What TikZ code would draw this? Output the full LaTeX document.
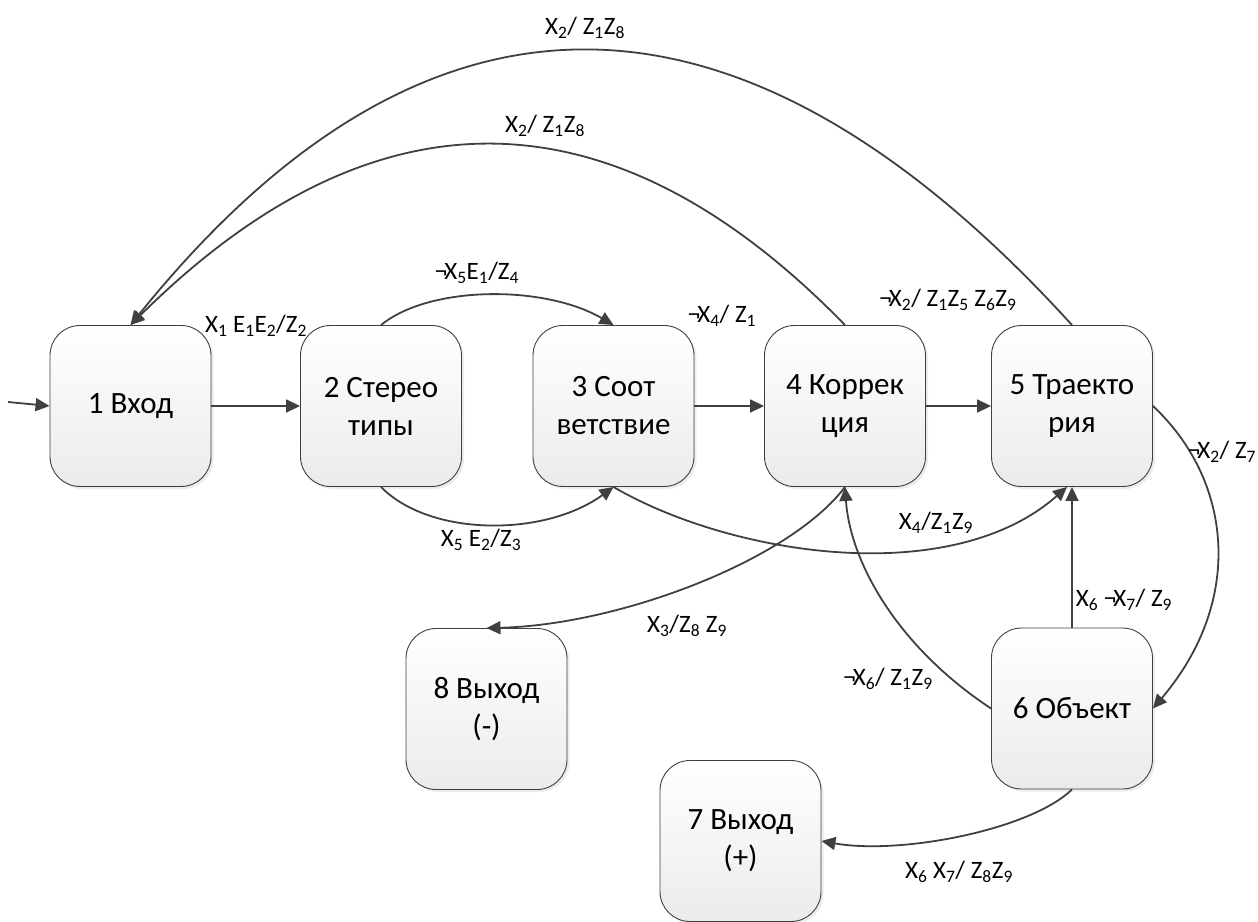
\documentclass[tikz,border=0pt]{standalone}
\usepackage{fontspec}
\setmainfont{Carlito}
\usetikzlibrary{arrows.meta,shadows}
\definecolor{ln}{HTML}{404040}
\definecolor{bot}{HTML}{EBEBEB}
\newcommand\ngx{¬\kern-3pt X}
\newcommand\ssub[1]{\textsubscript{#1}}
\begin{document}
\begin{tikzpicture}[x=1pt,y=-1pt,
  state/.style={draw=ln, line width=0.9pt, rounded corners=30pt,
    minimum width=161pt, minimum height=161pt, top color=white, bottom color=bot,
    align=center, font=\fontsize{31}{38}\selectfont,
    drop shadow={shadow xshift=2.5pt,shadow yshift=-2.5pt,fill=black!15}},
  lab/.style={font=\fontsize{25}{30}\selectfont, inner sep=0pt},
  arr/.style={draw=ln, line width=1.8pt, -{Triangle[length=14pt,width=13pt]}}]
\useasboundingbox (0,0) rectangle (1258,921);
\node[state] (n1) at (130.5,406) {1 Вход};
\node[state] (n2) at (381,406) {2 Стерео\\типы};
\node[state] (n3) at (613.5,406) {3 Соот\\ветствие};
\node[state] (n4) at (845,406) {4 Коррек\\ция};
\node[state] (n5) at (1072,406) {5 Траекто\\рия};
\node[state] (n6) at (1072,708.5) {6 Объект};
\node[state] (n8) at (486.5,709) {8 Выход\\(-)};
\node[state] (n7) at (740.5,841) {7 Выход\\(+)};

\coordinate (in) at (8,402);
\draw[arr] (in) -- (n1.west);
\draw[arr] (n1.east) -- (n2.west);
\draw[arr] (n2.north) .. controls (430,285) and (545,285) .. (n3.north);
\draw[arr] (n2.south) .. controls (430,537) and (545,537) .. (n3.south);
\draw[arr] (n3.east) -- (n4.west);
\draw[arr] (n4.east) -- (n5.west);
\draw[arr] (n4.north) .. controls (611,84.7) and (372.7,84.7) .. (n1.north);
\draw[arr] (n5.north) .. controls (739.3,-40.7) and (425.3,-40.7) .. (n1.north);
\draw[arr] (n5.east) .. controls (1232,480) and (1245,600) .. (n6.east);
\draw[arr] (n6.north) -- (n5.south);
\draw[arr] (n6.west) .. controls (895,645) and (850,560) .. (n4.south);
\draw[arr] (n3.south) .. controls (730,555) and (950,590) .. ([xshift=-5pt]n5.south);
\draw[arr] (n4.south) .. controls (790,560) and (620,625) .. (n8.north);
\draw[arr] (n6.south) .. controls (1030,830) and (900,855) .. (n7.east);

\node[lab] (l12) at (256,326) {X\ssub{1} E\ssub{1}E\ssub{2}/Z\ssub{2}};
\node[lab] (l23u) at (477,273) {\ngx\ssub{5}E\ssub{1}/Z\ssub{4}};
\node[lab] (l23l) at (481,540) {X\ssub{5} E\ssub{2}/Z\ssub{3}};
\node[lab] (l34) at (722,316) {\ngx\ssub{4}/ Z\ssub{1}};
\node[lab] (l45) at (948,300) {\ngx\ssub{2}/ Z\ssub{1}Z\ssub{5} Z\ssub{6}Z\ssub{9}};
\node[lab] (l41) at (545,126) {X\ssub{2}/ Z\ssub{1}Z\ssub{8}};
\node[lab] (l51) at (585,28) {X\ssub{2}/ Z\ssub{1}Z\ssub{8}};
\node[lab] (l56) at (1222,452) {\ngx\ssub{2}/ Z\ssub{7}};
\node[lab] (l35) at (936,523) {X\ssub{4}/Z\ssub{1}Z\ssub{9}};
\node[lab] (l65) at (1124,600) {X\ssub{6} \ngx\ssub{7}/ Z\ssub{9}};
\node[lab] (l64) at (888,679) {\ngx\ssub{6}/ Z\ssub{1}Z\ssub{9}};
\node[lab] (l48) at (687,626) {X\ssub{3}/Z\ssub{8} Z\ssub{9}};
\node[lab] (l67) at (959,872) {X\ssub{6} X\ssub{7}/ Z\ssub{8}Z\ssub{9}};
\end{tikzpicture}
\end{document}
